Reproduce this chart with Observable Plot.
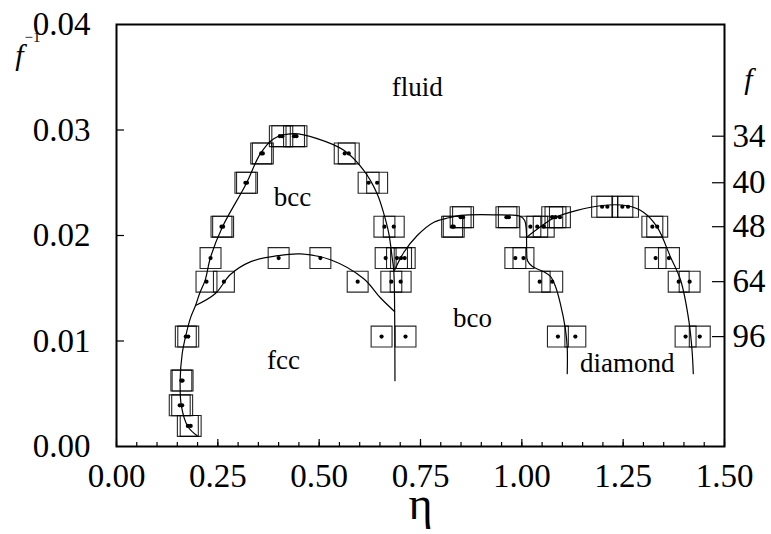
<!DOCTYPE html>
<html>
<head>
<meta charset="utf-8">
<script src="https://cdn.jsdelivr.net/npm/d3@7"></script>
<script src="https://cdn.jsdelivr.net/npm/@observablehq/plot@0.6"></script>
<style>
  html, body { margin: 0; padding: 0; background: #fff; }
  #chart svg { display: block; }
</style>
</head>
<body>
<div id="chart"></div>
<script>
// ---- axis ticks ----
const xTickValues = [0, 0.25, 0.5, 0.75, 1.0, 1.25, 1.5];
const xMinorTickValues = d3.range(0, 31).map(i => i * 0.05);
const yTickValues = [0, 0.01, 0.02, 0.03, 0.04];
const rightFTicks = [34, 40, 48, 64, 96];

// ---- simulation points: arm number f and packing fractions eta ----
const rowF = [34, 36, 40, 44, 46, 48, 56, 64, 96, 160, 256, 512];
const rowEta = [
  [0.403, 0.409, 0.438, 0.444],
  [0.357, 0.361, 0.563, 0.573],
  [0.318, 0.322, 0.622, 0.643],
  [1.198, 1.211, 1.248, 1.262],
  [0.849, 0.855, 0.962, 0.968, 1.075, 1.083, 1.094],
  [0.259, 0.263, 0.661, 0.684, 0.828, 0.832, 1.021, 1.038, 1.054, 1.322, 1.334],
  [0.232, 0.400, 0.503, 0.664, 0.692, 0.702, 0.711, 0.984, 1.004, 1.330, 1.363],
  [0.222, 0.265, 0.595, 0.678, 0.701, 1.044, 1.075, 1.387, 1.414],
  [0.171, 0.177, 0.654, 0.713, 1.089, 1.132, 1.404, 1.439],
  [0.160, 0.163],
  [0.156, 0.162],
  [0.176, 0.183]
];

// ---- phase boundary curves (eta, 1/f) ----
const bccFluidEta = [0.199,0.176,0.160,0.157,0.162,0.170,0.183,0.195,0.205,0.219,0.232,0.261,0.320,0.355,0.388,0.437,0.495,0.561,0.610,0.643,0.660,0.672,0.680,0.684,0.686,0.687];
const bccFluidInv = [0.00102,0.0019,0.00386,0.00624,0.00877,0.01035,0.01224,0.01336,0.0145,0.0158,0.01794,0.02079,0.02491,0.02776,0.02918,0.02965,0.02918,0.02807,0.02617,0.02396,0.0220,0.02016,0.01794,0.01668,0.01383,0.00624];
const fccEta = [0.195,0.244,0.281,0.33,0.40,0.454,0.528,0.61,0.651,0.686];
const fccInv = [0.01336,0.0145,0.0163,0.0175,0.0181,0.01825,0.0177,0.0159,0.0141,0.0128];
const bcoEta = [0.686,0.709,0.742,0.783,0.820,0.849,0.931,0.997,1.007,1.011,1.012,1.014,1.026,1.053,1.071,1.083,1.095,1.107,1.112,1.112];
const bcoInv = [0.0167,0.01841,0.0200,0.02126,0.02168,0.0219,0.02196,0.0218,0.02142,0.0205,0.0185,0.0176,0.01706,0.01658,0.0161,0.01516,0.01355,0.01127,0.00937,0.0069];
const diamondEta = [1.011,1.045,1.083,1.194,1.260,1.300,1.334,1.367,1.392,1.412,1.420,1.423];
const diamondInv = [0.0198,0.0208,0.02174,0.02282,0.02282,0.02221,0.02079,0.01794,0.01573,0.01193,0.00908,0.0069];

// ---- phase labels ----
const phaseNames = ["fluid", "bcc", "bco", "fcc", "diamond"];
const phaseEta = [0.742, 0.434, 0.878, 0.412, 1.260];
const phaseInv = [0.03404, 0.02366, 0.01211, 0.00819, 0.00788];

// ---- build tables ----
const points = rowF.flatMap((f, i) => rowEta[i].map(eta => ({eta, inv: 1 / f})));
const curves = [
  ["bccFluid", bccFluidEta, bccFluidInv],
  ["fcc", fccEta, fccInv],
  ["bco", bcoEta, bcoInv],
  ["diamond", diamondEta, diamondInv]
].flatMap(([name, es, vs]) => es.map((e, i) => ({curve: name, eta: e, inv: vs[i]})));
const phases = phaseNames.map((t, i) => ({text: t, eta: phaseEta[i], inv: phaseInv[i]}));

const W = 771, H = 534;
const mL = 116, mR = 47, mT = 24, mB = 88;
const innerW = W - mL - mR;
const innerH = H - mT - mB;
const serif = "'Liberation Serif', 'Times New Roman', serif";

const chart = Plot.plot({
  width: W,
  height: H,
  marginLeft: mL,
  marginRight: mR,
  marginTop: mT,
  marginBottom: mB,
  style: {fontFamily: serif, background: "#fff", color: "#000"},
  x: {domain: [0, 1.5], axis: null},
  y: {domain: [0, 0.04], axis: null},
  marks: [
    // tick marks inside the frame
    Plot.ruleX(xMinorTickValues, {stroke: "#000", strokeWidth: 1.2, insetTop: innerH - 4}),
    Plot.ruleX(xTickValues, {stroke: "#000", strokeWidth: 1.2, insetTop: innerH - 7}),
    Plot.ruleY(yTickValues.slice(1, -1), {stroke: "#000", strokeWidth: 1.2, insetRight: innerW - 8}),
    Plot.ruleY(rightFTicks.map(f => 1 / f), {stroke: "#000", strokeWidth: 1.2, insetLeft: innerW - 12}),
    // axes labels
    Plot.axisX({ticks: xTickValues, tickSize: 0, tickPadding: 17, tickFormat: d3.format(".2f"),
                fontSize: 33, fontFamily: serif, label: null}),
    Plot.axisY({anchor: "left", ticks: yTickValues, tickSize: 0, tickPadding: 26, tickFormat: d3.format(".2f"),
                fontSize: 33, fontFamily: serif, label: null}),
    Plot.axisY({anchor: "right", ticks: rightFTicks.map(f => 1 / f), tickSize: 0, tickPadding: 8,
                tickFormat: d => String(Math.round(1 / d)), fontSize: 33, fontFamily: serif, label: null}),
    // boundary curves
    Plot.line(curves, {x: "eta", y: "inv", z: "curve", curve: "catmull-rom", stroke: "#000", strokeWidth: 1.2}),
    // simulation points: box + dot
    Plot.dot(points, {x: "eta", y: "inv", symbol: "square", r: 11.8, stroke: "#000", strokeWidth: 1.1, strokeOpacity: 0.85, fill: "none"}),
    Plot.dot(points, {x: "eta", y: "inv", r: 2.1, fill: "#000", stroke: null}),
    // phase names
    Plot.text(phases, {x: "eta", y: "inv", text: "text", fontSize: 27, fontFamily: serif, fill: "#000"}),
    // axis titles
    Plot.text(["η"], {frameAnchor: "bottom", dy: 72, text: d => d, fontSize: 46, fontFamily: serif, fill: "#000", lineAnchor: "bottom"}),
    Plot.text(["f"], {frameAnchor: "top-left", dx: -97, dy: 31, text: d => d, fontSize: 30, fontStyle: "italic", fontFamily: serif, fill: "#000", textAnchor: "middle", lineAnchor: "middle"}),
    Plot.text(["−1"], {frameAnchor: "top-left", dx: -84, dy: 13, text: d => d, fontSize: 15, fontFamily: serif, fill: "#000", textAnchor: "middle", lineAnchor: "middle"}),
    Plot.text(["f"], {frameAnchor: "top-right", dx: 24, dy: 55, text: d => d, fontSize: 30, fontStyle: "italic", fontFamily: serif, fill: "#000", textAnchor: "middle", lineAnchor: "middle"}),
    Plot.frame({stroke: "#000", strokeWidth: 2})
  ]
});
document.getElementById("chart").appendChild(chart);
</script>
</body>
</html>
